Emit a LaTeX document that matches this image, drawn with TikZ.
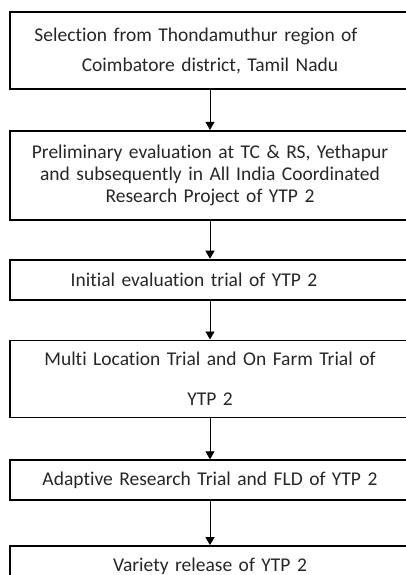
\documentclass[tikz,border=0pt]{standalone}
\usepackage{fontspec}
\setmainfont{Carlito}[Ligatures=NoCommon]
\usetikzlibrary{arrows.meta,positioning}

\begin{document}
\begin{tikzpicture}[x=1pt, y=-1pt,
  stage/.style={draw, line width=1.8pt, minimum width=400pt, text width=396pt, align=center,
    inner sep=0pt, font=\fontsize{19.5pt}{21.7pt}\selectfont, text=black!85},
  arr/.style={-{Triangle[width=9pt,length=8pt]}, line width=0.9pt}]
  \useasboundingbox (0,0) rectangle (405,575);
  % stages of the selection, one below the other
  \node[stage, minimum height=77pt] (sel) at (210,50.5) {Selection from Thondamuthur region of\hspace*{28pt}\mbox{}\\[8.3pt]Coimbatore district, Tamil Nadu};
  \node[stage, minimum height=89pt, below=40pt of sel] (prel) {Preliminary evaluation at TC \& RS, Yethapur\\and subsequently in All India Coordinated\\Research Project of YTP 2};
  \node[stage, minimum height=40pt, below=38pt of prel] (init) {Initial evaluation trial of YTP 2\hspace*{32pt}};
  \node[stage, minimum height=77pt, below=39pt of init] (mlt) {Multi Location Trial and On Farm Trial of\\[18.3pt]YTP 2};
  \node[stage, minimum height=40pt, below=41pt of mlt] (art) {Adaptive Research Trial and FLD of YTP 2};
  \node[stage, minimum height=40pt, below=44pt of art] (rel) {Variety release of YTP 2};
  % arrows
  \draw[arr] (sel) -- (prel);
  \draw[arr] (prel) -- (init);
  \draw[arr] (init) -- (mlt);
  \draw[arr] (mlt) -- (art);
  \draw[arr] (art) -- (rel);
\end{tikzpicture}
\end{document}
